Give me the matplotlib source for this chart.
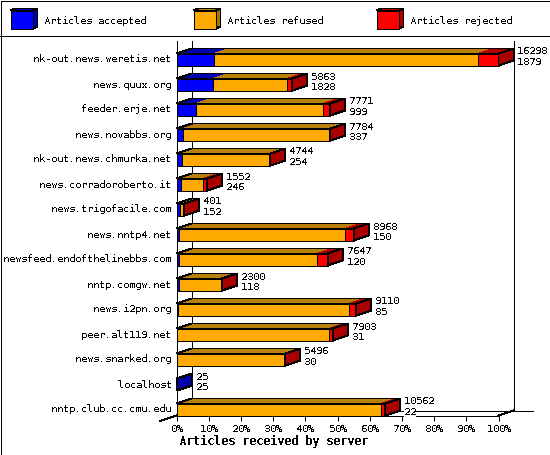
import matplotlib
matplotlib.use("Agg")
import matplotlib.pyplot as plt
from matplotlib.patches import Polygon, Rectangle
from matplotlib.transforms import ScaledTranslation

hosts = ["nk-out.news.weretis.net", "news.quux.org", "feeder.erje.net", "news.novabbs.org",
         "nk-out.news.chmurka.net", "news.corradoroberto.it", "news.trigofacile.com", "news.nntp4.net",
         "newsfeed.endofthelinebbs.com", "nntp.comgw.net", "news.i2pn.org", "peer.alt119.net",
         "news.snarked.org", "localhost", "nntp.club.cc.cmu.edu"]
totals = [16298, 5863, 7771, 7784, 4744, 1552, 401, 8968, 7647, 2300, 9110, 7903, 5496, 25, 10562]
accepted = [1879, 1828, 999, 337, 254, 246, 152, 150, 120, 118, 85, 31, 30, 25, 22]
# the red part of each bar
rejected = [1040, 260, 370, 15, 10, 230, 30, 460, 520, 10, 400, 170, 5, 0, 220]
legend_labels = ["Articles accepted", "Articles refused", "Articles rejected"]
x_ticks = [0, 10, 20, 30, 40, 50, 60, 70, 80, 90, 100]

FRONT = ["#0000ff", "#ffaa00", "#ff0000"]
TOP = ["#0000b4", "#b97f0b", "#b00000"]
SIDE = ["#0000aa", "#aa7500", "#aa0000"]

W, H = 550, 455
LEFT, RIGHT, BOTTOM, TOP_PX = 176.5, 498.5, 415.5, 40.5
ROW_PX, FIRST_ROW = 25, 59.5
DEPTH_X_PX, DEPTH_Y_PX = 15, 5
LW = 0.72

plt.rcParams["font.family"] = ["DejaVu Sans Mono"]
plt.rcParams["font.size"] = 7.2
plt.rcParams["text.antialiased"] = False
plt.rcParams["text.hinting"] = "native"
plt.rcParams["text.hinting_factor"] = 1
plt.rcParams["patch.antialiased"] = False
plt.rcParams["lines.antialiased"] = False

fig = plt.figure(figsize=(W / 100, H / 100), dpi=100, facecolor="white")

# pixel sized layer for the frame and the legend
frame = fig.add_axes([0, 0, 1, 1])
frame.set_xlim(0, W)
frame.set_ylim(H, 0)
frame.axis("off")
frame.add_patch(Rectangle((0.5, 0.5), W - 1, H - 1, fc="none", ec="black", lw=LW))
frame.plot([0, W], [35.5, 35.5], color="black", lw=LW)
for lx, label, front, top, side in zip([10.5, 193.5, 376.5], legend_labels, FRONT, TOP, SIDE):
    frame.add_patch(Polygon([(lx, 10.5), (lx + 5, 8.5), (lx + 27, 8.5), (lx + 22, 10.5)],
                            fc=top, ec="black", lw=LW))
    frame.add_patch(Polygon([(lx + 22, 10.5), (lx + 27, 8.5), (lx + 27, 26.5), (lx + 22, 28.5)],
                            fc=side, ec="black", lw=LW))
    frame.add_patch(Rectangle((lx, 10.5), 22, 18, fc=front, ec="black", lw=LW))
    frame.text(lx + 33.5, 21, label, ha="left", va="center", color="black")
frame.text(273.5, 442, "Articles received by server", ha="center", va="center",
           fontsize=8.4, fontweight="bold", color="black")

# main axes is the front plane of the 3d box
ax = fig.add_axes([LEFT / W, (H - BOTTOM) / H, (RIGHT - LEFT) / W, (BOTTOM - TOP_PX) / H])
ax.patch.set_visible(False)
ax.set_xlim(0, 100)
ax.set_ylim((BOTTOM - FIRST_ROW) / ROW_PX, (TOP_PX - FIRST_ROW) / ROW_PX)
for name in ["top", "right"]:
    ax.spines[name].set_visible(False)
ax.spines["left"].set_linewidth(LW)
ax.spines["bottom"].set_linewidth(LW)

dx = DEPTH_X_PX / (RIGHT - LEFT) * 100
dy = DEPTH_Y_PX / ROW_PX
half = 6 / ROW_PX
y_bottom, y_top = ax.get_ylim()
x_scale = 100 / max(totals)

# back wall and floor
line_style = dict(color="black", lw=LW, clip_on=False, zorder=1)
ax.plot([dx, dx], [y_top, y_bottom - dy], **line_style)
ax.plot([100 + dx, 100 + dx], [y_top, y_bottom - dy], **line_style)
ax.plot([dx, 100 + dx + 19 / (RIGHT - LEFT) * 100], [y_bottom - dy, y_bottom - dy], **line_style)
ax.plot([100, 100 + dx], [y_bottom, y_bottom - dy], **line_style)
ax.plot([-dx * 1.07, 0], [y_bottom + dy * 1.1, y_bottom], **line_style)

for row, (total, acc, rej) in enumerate(zip(totals, accepted, rejected)):
    parts = [acc, total - acc - rej, rej]
    start = 0
    last = 0
    for i, part in enumerate(parts):
        if part <= 0:
            continue
        x0, x1 = start * x_scale, (start + part) * x_scale
        ax.add_patch(Polygon([(x0, row - half), (x0 + dx, row - half - dy),
                              (x1 + dx, row - half - dy), (x1, row - half)],
                             fc=TOP[i], ec="none", clip_on=False, zorder=2))
        ax.add_patch(Rectangle((x0, row - half), x1 - x0, 2 * half, fc=FRONT[i], ec="black",
                               lw=LW, clip_on=False, zorder=3))
        start += part
        last = i
    end = total * x_scale
    ax.add_patch(Polygon([(0, row - half), (dx, row - half - dy), (end + dx, row - half - dy), (end, row - half)],
                         fc="none", ec="black", lw=LW, clip_on=False, zorder=3))
    ax.add_patch(Polygon([(end, row - half), (end + dx, row - half - dy),
                          (end + dx, row + half - dy), (end, row + half)],
                         fc=SIDE[last], ec="black", lw=LW, clip_on=False, zorder=3))
    label_x = end + dx + 4 / (RIGHT - LEFT) * 100
    for value, offset in [(total, -8), (acc, 2.5)]:
        ax.text(label_x, row + offset / ROW_PX, str(value), ha="left", va="center", color="black",
                clip_on=False, zorder=4, bbox=dict(fc="white", ec="none", pad=0))

ax.set_yticks(range(len(hosts)), hosts)
ax.tick_params(axis="y", length=0, pad=3.6, colors="black")
ax.set_xticks(x_ticks, [f"{t}%" for t in x_ticks])
ax.tick_params(axis="x", length=3.6, width=LW, pad=2.5, colors="black")

# host names sit one pixel higher than matplotlib centres them
nudge = ScaledTranslation(0, 1 / 100, fig.dpi_scale_trans)
for tick_label in ax.get_yticklabels():
    tick_label.set_transform(tick_label.get_transform() + nudge)

fig.savefig("out.png", dpi=100)
